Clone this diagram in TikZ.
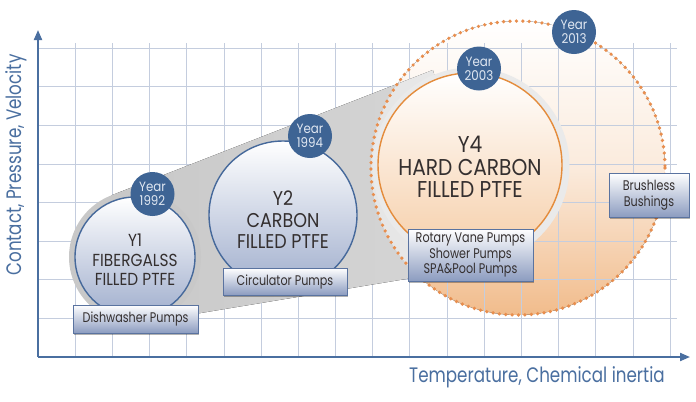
\documentclass[tikz,border=0pt]{standalone}
\usepackage{fontspec}
\setmainfont{Poppins}[FakeStretch=0.8]
\newfontfamily\circfont{Poppins}[FakeStretch=0.88]
\usetikzlibrary{shadows,arrows.meta}
\definecolor{axisblue}{RGB}{74,111,160}
\definecolor{badgeblue}{RGB}{62,100,148}
\definecolor{gridc}{RGB}{196,205,222}
\definecolor{circblue}{RGB}{70,105,155}
\definecolor{circfill}{RGB}{160,174,205}
\definecolor{boxfill}{RGB}{140,156,192}
\definecolor{boxborder}{RGB}{90,115,160}
\definecolor{orline}{RGB}{228,140,60}
\definecolor{ordot}{RGB}{232,142,78}
\definecolor{bigor}{RGB}{241,188,140}
\definecolor{y4fill}{RGB}{246,206,168}
\definecolor{txt}{RGB}{52,47,47}
\definecolor{badgetxt}{RGB}{225,232,242}
\definecolor{bandL}{RGB}{200,200,200}
\definecolor{bandR}{RGB}{215,215,215}
\definecolor{haloc}{RGB}{234,234,234}
\tikzset{
  gridline/.style={draw=gridc, line width=0.7bp},
  axisline/.style={draw=axisblue, line width=2bp, -{Triangle[length=10bp,width=8bp]}},
  axlabel/.style={text=axisblue, font=\fontsize{21}{24}\selectfont, inner sep=0},
  bubble/.style={circle, draw=circblue, line width=1.4bp, top color=white, bottom color=circfill, inner sep=0},
  orbubble/.style={circle, draw=orline, line width=1.4bp, top color=white, bottom color=y4fill, inner sep=0},
  intext/.style={text=txt, align=center, inner sep=0},
  badge/.style={circle, fill=badgeblue, text=badgetxt, align=center, inner sep=0, minimum size=44bp, font=\circfont\fontsize{13.5}{14}\selectfont},
  appbox/.style={rectangle, draw=boxborder, line width=0.8bp, top color=white, bottom color=boxfill, text=txt, align=center, inner sep=0, font=\fontsize{14}{16}\selectfont, drop shadow={shadow xshift=1.2bp, shadow yshift=-1.5bp, fill=black, opacity=0.3}},
}
\begin{document}
\begin{tikzpicture}[x=1bp,y=-1bp]
\useasboundingbox (0,0) rectangle (696,401);
\fill[white] (0,0) rectangle (696,401);
% big circle fill
\fill[top color=white, bottom color=bigor, middle color=bigor!30!white] (518,168) circle (147);
% grid
\foreach \i in {1,...,17} \draw[gridline] ({38+37.18*\i},43) -- ({38+37.18*\i},357);
\foreach \j in {0,...,7} \draw[gridline] (38,{48+38.625*\j}) -- (677,{48+38.625*\j});
% band
\fill[left color=bandL, right color=bandR] (111,195.5) -- (432.9,70) -- (486.7,265.6) -- (145.8,322.1) -- cycle;
\fill[bandL] (135,257) circle (66);
\begin{scope}
  \clip (518,168) circle (147);
  \fill[white, opacity=0.45] (111,195.5) -- (432.9,70) -- (486.7,265.6) -- (145.8,322.1) -- cycle;
\end{scope}
% dotted border
\draw[ordot, line width=3.7bp, dash pattern=on 0pt off 6.4bp, line cap=round] (518,168) circle (147);
% halo Y4
\fill[haloc] (471,166) circle (98.5);
% bubbles
\node[orbubble, minimum size=184bp] (y4) at (470,165) {};
\node[bubble, minimum size=148bp] (y2) at (283,215) {};
\node[bubble, minimum size=120bp] (y1) at (135,257) {};
\node[intext, font=\circfont\fontsize{17.5}{19.5}\selectfont] (y1t) at (135,260) {Y1\\FIBERGALSS\\FILLED PTFE};
\node[intext, font=\circfont\fontsize{20}{21.5}\selectfont] (y2t) at (283,220) {Y2\\CARBON\\FILLED PTFE};
\node[intext, font=\circfont\fontsize{23}{22.5}\selectfont] (y4t) at (470,167) {Y4\\HARD CARBON\\FILLED PTFE};
% badges
\node[badge] (b1) at (152.5,194) {Year\\1992};
\node[badge] (b2) at (310,136) {Year\\1994};
\node[badge] (b4) at (479,68.5) {Year\\2003};
\node[badge] (b13) at (574,32) {Year\\2013};
% boxes
\node[appbox, minimum width=125bp, minimum height=28bp] (dish) at (135.5,319) {Dishwasher Pumps};
\node[appbox, minimum width=124bp, minimum height=27bp] (circ) at (285,281.5) {Circulator Pumps};
\node[appbox, minimum width=125bp, minimum height=52bp] (rot) at (470.5,255) {Rotary Vane Pumps\\Shower Pumps\\SPA\&Pool Pumps};
\node[appbox, minimum width=80bp, minimum height=44bp] (brush) at (649,195) {Brushless\\Bushings};
% axes
\coordinate (O) at (38,357);
\coordinate (ytip) at (38,30);
\coordinate (xtip) at (690,357);
\draw[axisline] (O) -- (ytip);
\draw[axisline] (O) -- (xtip);
\node[axlabel, rotate=90] (ylab) at (16,165) {Contact, Pressure, Velocity};
\node[axlabel] (xlab) at (537,377) {Temperature, Chemical inertia};
\end{tikzpicture}
\end{document}
